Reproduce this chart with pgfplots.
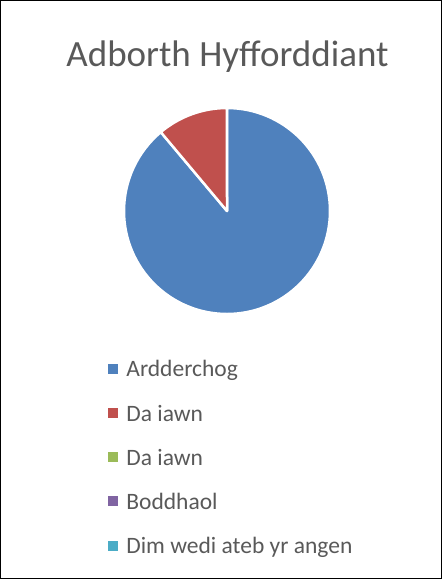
\documentclass[border=0pt]{standalone}
\usepackage{pgfplots}
\pgfplotsset{compat=1.18}
\usepackage{pgfplotstable}
\usepackage{fontspec}
\setmainfont{Carlito}
\definecolor{c1}{HTML}{4F81BD}
\definecolor{c2}{HTML}{C0504D}
\definecolor{c3}{HTML}{9BBB59}
\definecolor{c4}{HTML}{8064A2}
\definecolor{c5}{HTML}{4BACC6}
\definecolor{txt}{HTML}{595959}

\pgfplotstableread[col sep=comma]{
idx,value
0,8
1,1
2,0
3,0
4,0
}\piedata

\begin{document}
\begin{tikzpicture}
% total
\def\total{0}
\pgfplotsinvokeforeach{0,...,4}{%
  \pgfplotstablegetelem{#1}{value}\of\piedata
  \pgfmathsetmacro\tmpsum{\total+\pgfplotsretval}%
  \global\let\total\tmpsum
}
\draw[black, line width=0.8pt] (0.4pt,-0.4pt) rectangle (441.6pt,-578.6pt);
\node[txt, font=\fontsize{37}{44}\selectfont, anchor=base] at (227.5pt,-66pt) {Adborth Hyfforddiant};
\begin{axis}[
  at={(124pt,-314pt)}, anchor=south west,
  scale only axis, width=206pt, height=206pt,
  xmin=-1, xmax=1, ymin=-1, ymax=1,
  hide axis, clip=false,
  legend style={
    at={(-0.0777,-0.1976)}, anchor=north west,
    draw=none, fill=none, inner sep=0pt, outer sep=0pt,
    font=\fontsize{23.5}{28}\selectfont, text=txt,
    cells={anchor=west},
    nodes={inner sep=0pt, text height=22pt, text depth=5pt},
    /tikz/row sep=17.3pt, /tikz/column sep=9pt,
  },
]
\gdef\cumangle{90}
\pgfplotsinvokeforeach{0,...,4}{%
  \pgfplotstablegetelem{#1}{value}\of\piedata
  \pgfmathsetmacro\sweep{\pgfplotsretval/\total*360}%
  \pgfmathsetmacro\endang{\cumangle-\sweep}%
  \ifdim\sweep pt>0pt
    \edef\temp{\noexpand\fill[c\the\numexpr#1+1\relax, draw=white, line width=2.5pt, line join=round]
      (axis cs:0,0) -- (axis cs:{cos(\cumangle)},{sin(\cumangle)})
      arc[start angle=\cumangle, end angle=\endang, radius=103pt] -- cycle;}%
    \temp
  \fi
  \global\let\cumangle\endang
}
\addlegendimage{legend image code/.code={\fill[c1] (0pt,-4.5pt) rectangle (9pt,4.5pt);}}
\addlegendentry{Ardderchog}
\addlegendimage{legend image code/.code={\fill[c2] (0pt,-4.5pt) rectangle (9pt,4.5pt);}}
\addlegendentry{Da iawn}
\addlegendimage{legend image code/.code={\fill[c3] (0pt,-4.5pt) rectangle (9pt,4.5pt);}}
\addlegendentry{Da iawn}
\addlegendimage{legend image code/.code={\fill[c4] (0pt,-4.5pt) rectangle (9pt,4.5pt);}}
\addlegendentry{Boddhaol}
\addlegendimage{legend image code/.code={\fill[c5] (0pt,-4.5pt) rectangle (9pt,4.5pt);}}
\addlegendentry{Dim wedi ateb yr angen}
\end{axis}
\end{tikzpicture}
\end{document}
